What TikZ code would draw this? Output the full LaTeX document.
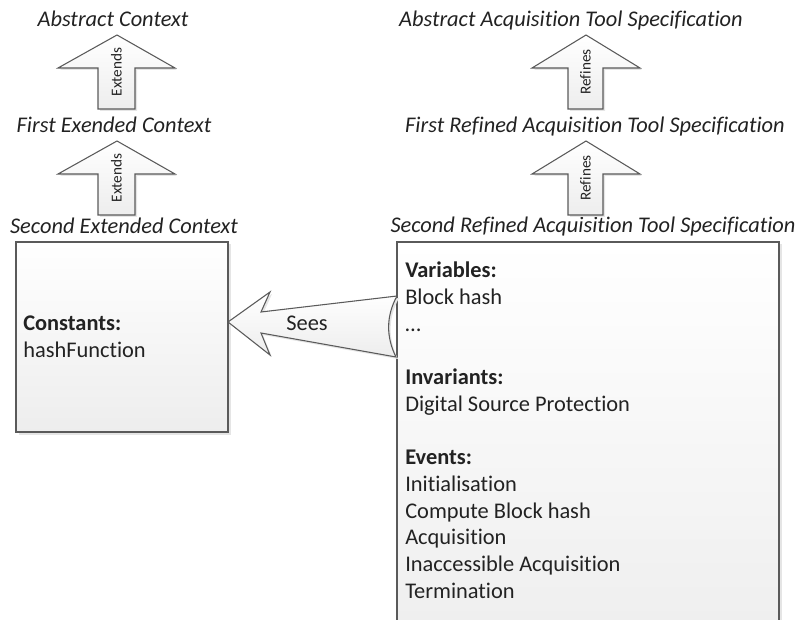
\documentclass[tikz,border=0pt]{standalone}
\usepackage{fontspec}
\setmainfont{Carlito}[Ligatures={NoCommon}]
\definecolor{edge}{HTML}{5A5A5A}
\definecolor{txt}{HTML}{222222}
\begin{document}
\begin{tikzpicture}[x=0.75pt,y=-0.75pt,
  title/.style={font=\fontsize{16.8}{20}\selectfont\itshape, text=txt, inner sep=0pt, anchor=base},
  boxtxt/.style={font=\fontsize{16.8}{20}\selectfont, text=txt, inner sep=0pt, anchor=base west},
  boxhead/.style={boxtxt, font=\fontsize{16.8}{20}\selectfont\bfseries},
  arrowtxt/.style={font=\fontsize{11.4}{13}\selectfont, text=txt, inner sep=0pt, rotate=90},
  shapefill/.style={top color=white, bottom color=black!7, draw=edge, line width=0.8pt, line join=miter},
  shade/.style={fill=black!10, draw=none},
  box/.style={shapefill, rectangle, inner sep=0pt}
]
\useasboundingbox (0,0) rectangle (803,620);
\clip (0,0) rectangle (803,620);

% ---------- titles ----------
\node[title] (t1) at (113,27) {Abstract Context};
\node[title] (t2) at (114,133) {First Exended Context};
\node[title] (t3) at (124,234) {Second Extended Context};
\node[title] (t4) at (571,27) {Abstract Acquisition Tool Specification};
\node[title] (t5) at (595,133) {First Refined Acquisition Tool Specification};
\node[title] (t6) at (593,233) {Second Refined Acquisition Tool Specification};

% ---------- shadows ----------
\fill[shade] (18.5,244.5) rectangle (231,435);
\fill[shade] (399.5,244.5) rectangle (782,660);

% ---------- boxes ----------
\node[box, minimum width=159pt, minimum height=142.5pt] (lb) at (122,337) {};
\node[box, minimum width=286.5pt, minimum height=318pt] (rb) at (588,454) {};

% ---------- up arrows ----------
\newcommand{\upleft}[1]{%
  (117,#1) -- (175,#1+33) -- (135,#1+33) -- (135,#1+74) -- (98,#1+74) -- (98,#1+33) -- (58,#1+33) -- cycle}
\newcommand{\upright}[1]{%
  (586,#1) -- (640,#1+33) -- (603,#1+33) -- (603,#1+74) -- (568,#1+74) -- (568,#1+33) -- (532,#1+33) -- cycle}

\fill[shade, xshift=1.5pt, yshift=-1.5pt] \upleft{35};
\fill[shade, xshift=1.5pt, yshift=-1.5pt] \upleft{141};
\fill[shade, xshift=1.5pt, yshift=-1.5pt] \upright{35};
\fill[shade, xshift=1.5pt, yshift=-1.5pt] \upright{141};

\path[shapefill] \upleft{35};
\path[shapefill] \upleft{141};
\path[shapefill] \upright{35};
\path[shapefill] \upright{141};

\node[arrowtxt] (e1) at (116.5,72) {Extends};
\node[arrowtxt] (e2) at (116.5,178) {Extends};
\node[arrowtxt] (r1) at (585.5,72) {Refines};
\node[arrowtxt] (r2) at (585.5,178) {Refines};

% ---------- Sees arrow ----------
\coordinate (tip) at (228,322);
\newcommand{\seespath}{(tip) -- (270,292) -- (261,312) -- (397,296)
   .. controls (386,316) and (386,337) .. (396,357)
   -- (261,333) -- (270,355) -- cycle}
\fill[shade, xshift=1.5pt, yshift=-1.5pt] \seespath;
\path[shapefill] \seespath;
\node[font=\fontsize{16.8}{20}\selectfont, text=txt, inner sep=0pt, anchor=base] (sees) at (307,330) {Sees};

% ---------- left box text ----------
\node[boxhead] (c1) at (23,330) {Constants:};
\node[boxtxt] (c2) at (23,357) {hashFunction};

% ---------- right box text ----------
\node[boxhead] (v0) at (405,278) {Variables:};
\node[boxtxt] (v1) at (405,304.7) {Block hash};
\node[boxtxt] (v2) at (405,331.3) {…};
\node[boxhead] (i0) at (405,384.7) {Invariants:};
\node[boxtxt] (i1) at (405,411.3) {Digital Source Protection};
\node[boxhead] (ev0) at (405,464.7) {Events:};
\node[boxtxt] (ev1) at (405,491.3) {Initialisation};
\node[boxtxt] (ev2) at (405,518) {Compute Block hash};
\node[boxtxt] (ev3) at (405,544.7) {Acquisition};
\node[boxtxt] (ev4) at (405,571.3) {Inaccessible Acquisition};
\node[boxtxt] (ev5) at (405,598) {Termination};
\end{tikzpicture}
\end{document}
